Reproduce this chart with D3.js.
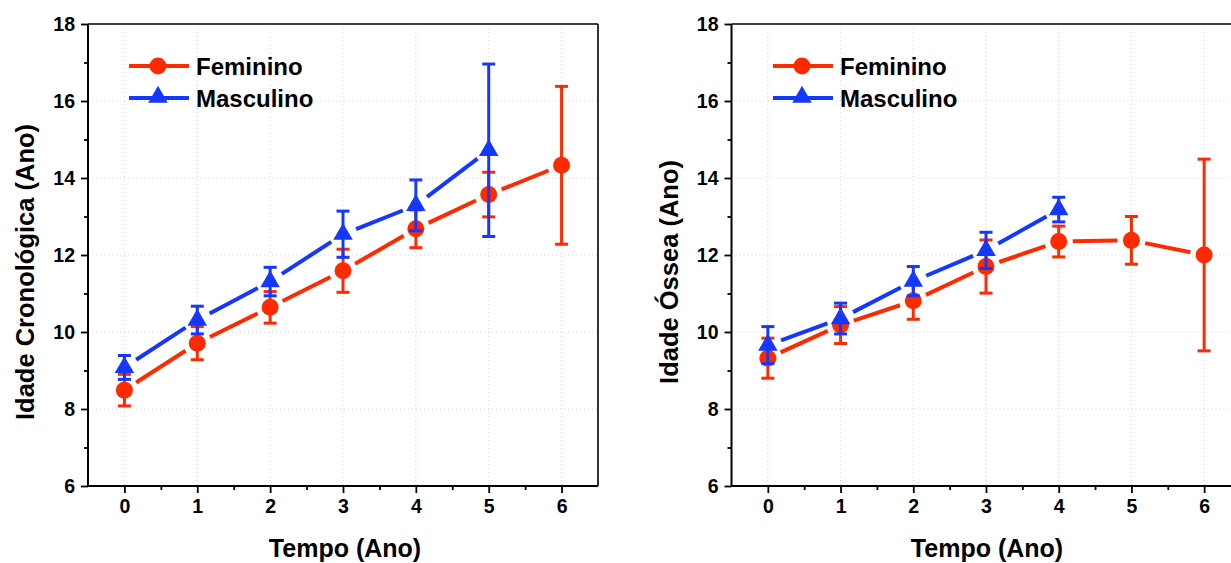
<!DOCTYPE html>
<html>
<head>
<meta charset="utf-8">
<script src="https://cdn.jsdelivr.net/npm/d3@7"></script>
<style>
  html, body { margin: 0; padding: 0; background: #fff; }
  svg { display: block; font-family: "Liberation Sans", Arial, sans-serif; font-weight: bold; }
</style>
</head>
<body>
<svg id="chart" width="1231" height="563"></svg>
<script>
// ---- data ----
const times = [0, 1, 2, 3, 4, 5, 6];
const xTickValues = [0, 1, 2, 3, 4, 5, 6];
const yTickValues = [6, 8, 10, 12, 14, 16, 18];
const seriesNames = ["Feminino", "Masculino"];

// Idade Cronológica
const femCronMean = [8.49, 9.71, 10.64, 11.59, 12.68, 13.57, 14.33];
const femCronErr  = [0.41, 0.43, 0.41, 0.56, 0.49, 0.58, 2.05];
const mascCronMean = [9.08, 10.31, 11.31, 12.54, 13.29, 14.72];
const mascCronErr  = [0.31, 0.36, 0.37, 0.60, 0.66, 2.24];

// Idade Óssea
const femOsseaMean = [9.32, 10.18, 10.81, 11.70, 12.35, 12.38, 12.00];
const femOsseaErr  = [0.52, 0.48, 0.48, 0.69, 0.40, 0.62, 2.49];
const mascOsseaMean = [9.66, 10.35, 11.32, 12.12, 13.18];
const mascOsseaErr  = [0.48, 0.40, 0.38, 0.47, 0.32];

const yTitles = ["Idade Cronológica (Ano)", "Idade Óssea (Ano)"];
const xTitle = "Tempo (Ano)";

// ---- styles ----
const RED = "#ff2a00";
const BLUE = "#1438ff";

const svg = d3.select("#chart");

function panel(opts) {
  const { left, right, top, bottom, yTitle, fem, femErr, masc, mascErr, titleX, legendX } = opts;
  const x = d3.scaleLinear().domain([-0.5, 6.5]).range([left, right]);
  const y = d3.scaleLinear().domain([6, 18]).range([bottom, top]);
  const g = svg.append("g");

  // grid
  g.selectAll(".gx").data(xTickValues).join("line")
    .attr("x1", d => x(d)).attr("x2", d => x(d))
    .attr("y1", top).attr("y2", bottom)
    .attr("stroke", "#d4d4d4").attr("stroke-width", 1).attr("stroke-dasharray", "1,3");
  g.selectAll(".gy").data(yTickValues.slice(1, -1)).join("line")
    .attr("x1", left).attr("x2", right)
    .attr("y1", d => y(d)).attr("y2", d => y(d))
    .attr("stroke", "#d4d4d4").attr("stroke-width", 1).attr("stroke-dasharray", "1,3");

  // frame top/right
  g.append("line").attr("x1", left).attr("x2", right).attr("y1", top).attr("y2", top)
    .attr("stroke", "#000").attr("stroke-width", 1.6);
  g.append("line").attr("x1", right).attr("x2", right).attr("y1", top).attr("y2", bottom)
    .attr("stroke", "#000").attr("stroke-width", 1.6);

  // axes
  const xAxis = d3.axisBottom(x).tickValues(xTickValues).tickSize(7).tickPadding(6).tickFormat(d3.format("d"));
  const xMinor = d3.axisBottom(x).tickValues(d3.range(-0.5, 6.51, 0.5).filter(v => !Number.isInteger(v) && v > -0.5 && v < 6.5)).tickSize(4).tickFormat("");
  const yAxis = d3.axisLeft(y).tickValues(yTickValues).tickSize(7).tickPadding(6).tickFormat(d3.format("d"));
  const yMinor = d3.axisLeft(y).tickValues([7, 9, 11, 13, 15, 17]).tickSize(4).tickFormat("");

  function styleAxis(sel) {
    sel.select(".domain").attr("stroke", "#000").attr("stroke-width", 2);
    sel.selectAll(".tick line").attr("stroke", "#000").attr("stroke-width", 1.8);
    sel.selectAll(".tick text").attr("fill", "#000").style("font-size", "19.5px").style("font-weight", "bold")
      .style("font-family", "'Liberation Sans', Arial, sans-serif");
  }
  g.append("g").attr("transform", `translate(0,${bottom})`).call(xMinor).call(styleAxis).select(".domain").remove();
  g.append("g").attr("transform", `translate(${left},0)`).call(yMinor).call(styleAxis).select(".domain").remove();
  const xa = g.append("g").attr("transform", `translate(0,${bottom})`).call(xAxis).call(styleAxis);
  xa.select(".domain").attr("d", `M${left},0H${right}`);
  const ya = g.append("g").attr("transform", `translate(${left},0)`).call(yAxis).call(styleAxis);
  ya.select(".domain").attr("d", `M0,${bottom}V${top}`);

  // titles
  g.append("text").attr("x", titleX).attr("y", 557).attr("text-anchor", "middle")
    .style("font-size", "25px").attr("fill", "#000").text(xTitle);
  g.append("text").attr("transform", `translate(${left - 54},272) rotate(-90)`).attr("text-anchor", "middle")
    .style("font-size", "25.5px").attr("fill", "#000").text(yTitle);

  const tri = d3.symbol().type(d3.symbolTriangle).size(165);

  function drawSeries(means, errs, color, marker) {
    const pts = means.map((m, i) => ({ t: times[i], m, e: errs[i], px: x(times[i]), py: y(m) }));
    const gap = 14;
    // connecting lines with gaps
    const segs = [];
    for (let i = 0; i < pts.length - 1; i++) {
      const a = pts[i], b = pts[i + 1];
      const dx = b.px - a.px, dy = b.py - a.py, L = Math.hypot(dx, dy);
      const ux = dx / L, uy = dy / L;
      segs.push({ x1: a.px + ux * gap, y1: a.py + uy * gap, x2: b.px - ux * gap, y2: b.py - uy * gap });
    }
    g.append("g").selectAll("line").data(segs).join("line")
      .attr("x1", d => d.x1).attr("y1", d => d.y1).attr("x2", d => d.x2).attr("y2", d => d.y2)
      .attr("stroke", color).attr("stroke-width", 4);
    // error bars
    const eg = g.append("g");
    eg.selectAll(".stem").data(pts).join("line")
      .attr("x1", d => d.px).attr("x2", d => d.px)
      .attr("y1", d => y(d.m - d.e)).attr("y2", d => y(d.m + d.e))
      .attr("stroke", color).attr("stroke-width", 3);
    eg.selectAll(".capT").data(pts).join("line")
      .attr("x1", d => d.px - 6.5).attr("x2", d => d.px + 6.5)
      .attr("y1", d => y(d.m + d.e)).attr("y2", d => y(d.m + d.e))
      .attr("stroke", color).attr("stroke-width", 3);
    eg.selectAll(".capB").data(pts).join("line")
      .attr("x1", d => d.px - 6.5).attr("x2", d => d.px + 6.5)
      .attr("y1", d => y(d.m - d.e)).attr("y2", d => y(d.m - d.e))
      .attr("stroke", color).attr("stroke-width", 3);
    // markers
    if (marker === "circle") {
      g.append("g").selectAll("circle").data(pts).join("circle")
        .attr("cx", d => d.px).attr("cy", d => d.py).attr("r", 8.5).attr("fill", color);
    } else {
      g.append("g").selectAll("path").data(pts).join("path")
        .attr("d", tri).attr("transform", d => `translate(${d.px},${d.py})`).attr("fill", color);
    }
  }
  drawSeries(fem, femErr, RED, "circle");
  drawSeries(masc, mascErr, BLUE, "triangle");

  // legend
  const lg = g.append("g");
  const rows = [
    { name: seriesNames[0], color: RED, marker: "circle", y: 66 },
    { name: seriesNames[1], color: BLUE, marker: "triangle", y: 98 }
  ];
  rows.forEach(r => {
    lg.append("line").attr("x1", legendX).attr("x2", legendX + 60).attr("y1", r.y).attr("y2", r.y)
      .attr("stroke", r.color).attr("stroke-width", 4);
    if (r.marker === "circle") {
      lg.append("circle").attr("cx", legendX + 29).attr("cy", r.y).attr("r", 8.5).attr("fill", r.color);
    } else {
      lg.append("path").attr("d", tri).attr("transform", `translate(${legendX + 29},${r.y - 1})`).attr("fill", r.color);
    }
    lg.append("text").attr("x", legendX + 67).attr("y", r.y + 9).style("font-size", "24px")
      .attr("fill", "#000").text(r.name);
  });
}

panel({ left: 88, right: 598, top: 24, bottom: 486, yTitle: yTitles[0],
  fem: femCronMean, femErr: femCronErr, masc: mascCronMean, mascErr: mascCronErr,
  titleX: 345, legendX: 129 });
panel({ left: 731.5, right: 1240.5, top: 24, bottom: 486, yTitle: yTitles[1],
  fem: femOsseaMean, femErr: femOsseaErr, masc: mascOsseaMean, mascErr: mascOsseaErr,
  titleX: 987, legendX: 773 });
</script>
</body>
</html>
